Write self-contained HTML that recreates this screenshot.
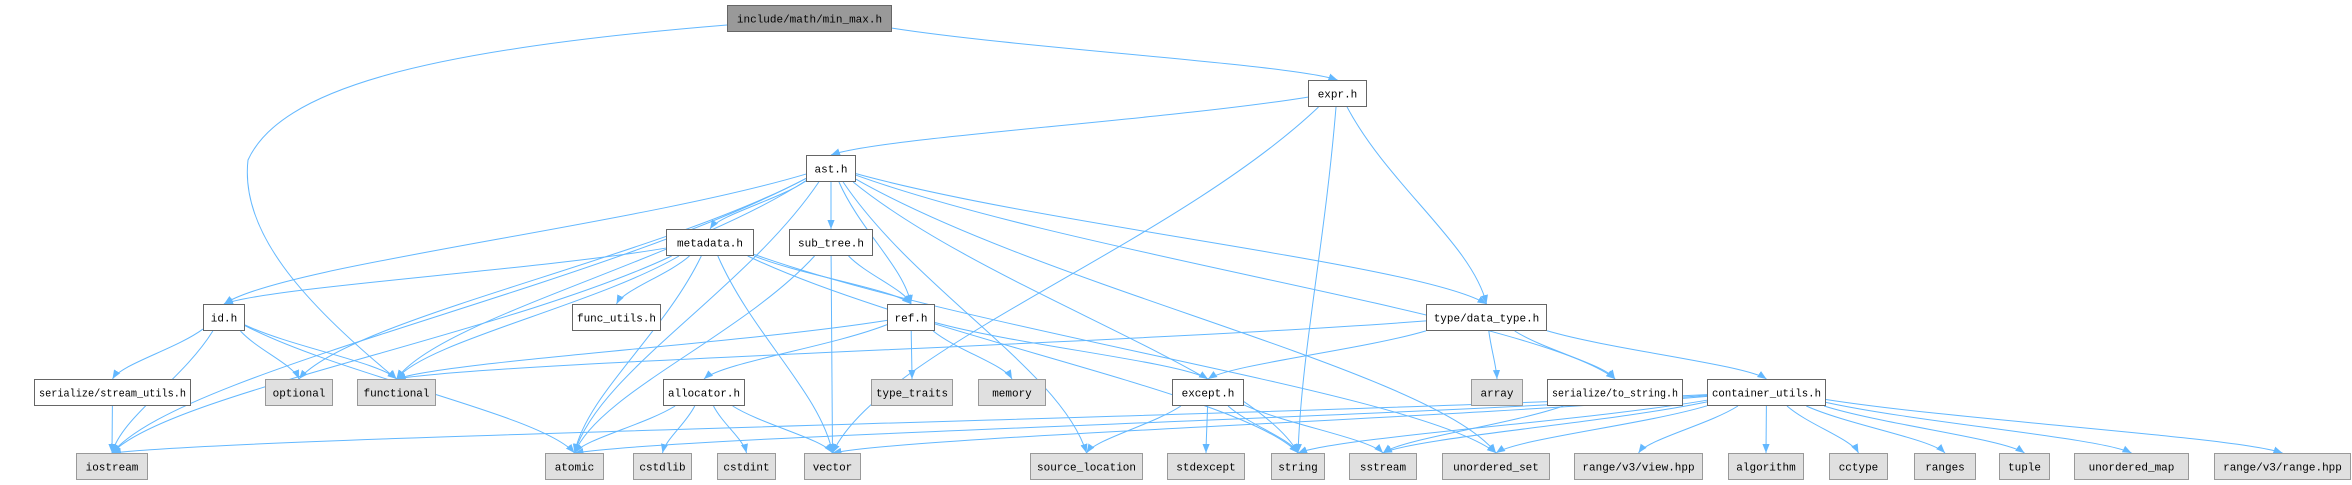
<!DOCTYPE html>
<html><head><meta charset="utf-8">
<style>
html,body{margin:0;padding:0;background:#fff;}
svg{display:block;}
text{font-family:"Liberation Mono","DejaVu Sans Mono",monospace;font-size:11px;fill:#000;}
</style></head>
<body>
<svg id="g" width="2352" height="485" viewBox="0 0 2352 485">
<defs><marker id="ah" viewBox="0 0 10 10" refX="10" refY="5" markerWidth="9" markerHeight="9" orient="auto" markerUnits="userSpaceOnUse"><path d="M0,1 L10,5 L0,9 z" fill="#63b8ff"/></marker></defs>
<g id="edges"></g>
<g id="nodes"></g>
</svg>
<script>
const nodeIds=["minmax","expr","ast","metadata","subtree","id","funcutils","ref","datatype","streamutils","optional","functional","allocator","typetraits","memory","except","array","tostring","containerutils","iostream","atomic","cstdlib","cstdint","vector","sourceloc","stdexcept","string","sstream","unorderedset","rangeview","algorithm","cctype","ranges","tuple","unorderedmap","rangerange"];
const nodeLabels=["include/math/min_max.h","expr.h","ast.h","metadata.h","sub_tree.h","id.h","func_utils.h","ref.h","type/data_type.h","serialize/stream_utils.h","optional","functional","allocator.h","type_traits","memory","except.h","array","serialize/to_string.h","container_utils.h","iostream","atomic","cstdlib","cstdint","vector","source_location","stdexcept","string","sstream","unordered_set","range/v3/view.hpp","algorithm","cctype","ranges","tuple","unordered_map","range/v3/range.hpp"];
const nodeKinds=["main","doc","doc","doc","doc","doc","doc","doc","doc","doc","ext","ext","doc","ext","ext","doc","ext","doc","doc","ext","ext","ext","ext","ext","ext","ext","ext","ext","ext","ext","ext","ext","ext","ext","ext","ext"];
const nodeX=[727,1308,806,666,789,203,572,887,1426,34,265,357,663,871,978,1172,1471,1547,1707,76,545,633,717,804,1030,1167,1271,1349,1442,1574,1728,1829,1914,1999,2074,2214];
const nodeR=[892,1367,856,754,873,245,661,935,1547,191,333,436,745,953,1046,1244,1523,1683,1826,148,604,692,776,861,1143,1245,1325,1417,1550,1703,1804,1888,1976,2050,2189,2351];
const nodeY=[5,80,155,229,229,304,304,304,304,379,379,379,379,379,379,379,379,379,379,453,453,453,453,453,453,453,453,453,453,453,453,453,453,453,453,453];
const edgeFrom=["minmax","minmax","expr","expr","expr","expr","ast","ast","ast","ast","ast","ast","ast","ast","ast","ast","ast","ast","ast","metadata","metadata","metadata","metadata","metadata","metadata","metadata","metadata","metadata","subtree","subtree","subtree","id","id","id","id","id","ref","ref","ref","ref","ref","streamutils","allocator","allocator","allocator","allocator","datatype","datatype","datatype","datatype","datatype","except","except","except","except","tostring","containerutils","containerutils","containerutils","containerutils","containerutils","containerutils","containerutils","containerutils","containerutils","containerutils","containerutils","containerutils","containerutils"];
const edgeTo=["functional","expr","ast","vector","string","datatype","id","iostream","optional","functional","atomic","metadata","subtree","ref","sourceloc","string","datatype","tostring","unorderedset","id","funcutils","ref","functional","iostream","atomic","vector","string","unorderedset","ref","atomic","vector","iostream","streamutils","optional","functional","atomic","functional","allocator","typetraits","memory","except","iostream","atomic","cstdlib","cstdint","vector","functional","except","array","tostring","containerutils","sourceloc","stdexcept","string","sstream","sstream","iostream","atomic","vector","string","sstream","unorderedset","rangeview","algorithm","cctype","ranges","tuple","unorderedmap","rangerange"];
const H=27;
const NS="http://www.w3.org/2000/svg";
const idx=id=>nodeIds.indexOf(id);
const eg=document.getElementById('edges'), ng=document.getElementById('nodes');
function clip(a,tx,ty){
  // point on source box boundary toward (tx,ty)
  const cx=(nodeX[a]+nodeR[a])/2, cy=nodeY[a]+H/2;
  const hw=(nodeR[a]-nodeX[a])/2, hh=H/2;
  const dx=tx-cx, dy=ty-cy;
  const s=Math.min(Math.abs(dx)>0?hw/Math.abs(dx):1e9, Math.abs(dy)>0?hh/Math.abs(dy):1e9);
  return [cx+dx*s, cy+dy*s];
}
for(let k=0;k<edgeFrom.length;k++){
  const a=idx(edgeFrom[k]), b=idx(edgeTo[k]);
  const bx=(nodeX[b]+nodeR[b])/2;
  let d;
  if(edgeFrom[k]==="minmax"&&edgeTo[k]==="functional"){
    d=`M${nodeX[a]},${nodeY[a]+20} C420,50 280,90 248,160 C240,230 300,300 ${bx},${nodeY[b]}`;
  } else {
    let tx=bx, ty=nodeY[b];
    const [sx,sy]=clip(a,tx,ty);
    if(ty<=sy+2){ ty=nodeY[b]+H/2; tx=(sx<bx)?nodeX[b]:nodeR[b]; }
    const mx=(sx+tx)/2, my=(sy+ty)/2;
    d=`M${sx},${sy} C${sx+(tx-sx)*0.3},${sy+(ty-sy)*0.4} ${tx-(tx-sx)*0.1},${ty-(ty-sy)*0.3} ${tx},${ty}`;
  }
  const p=document.createElementNS(NS,'path');
  p.setAttribute('d',d);p.setAttribute('fill','none');p.setAttribute('stroke','#63b8ff');p.setAttribute('stroke-width','1');p.setAttribute('marker-end','url(#ah)');
  
  
  eg.appendChild(p);
}
for(let i=0;i<nodeIds.length;i++){
  const g=document.createElementNS(NS,'g');
  
  
  const r=document.createElementNS(NS,'rect');
  const w=nodeR[i]-nodeX[i];
  r.setAttribute('x',nodeX[i]+0.5);r.setAttribute('y',nodeY[i]+0.5);r.setAttribute('width',w-1);r.setAttribute('height',H-1);
  const k=nodeKinds[i];
  r.setAttribute('fill',k==='main'?'#999999':k==='ext'?'#e0e0e0':'#ffffff');
  r.setAttribute('stroke',k==='ext'?'#999999':'#666666');
  
  
  g.appendChild(r);
  const t=document.createElementNS(NS,'text');
  t.setAttribute('x',nodeX[i]+w/2);t.setAttribute('y',nodeY[i]+17.5);t.setAttribute('text-anchor','middle');
  const tl=Math.min(w-10,nodeLabels[i].length*6.6);
  t.setAttribute('textLength',tl);t.setAttribute('lengthAdjust','spacingAndGlyphs');
  t.textContent=nodeLabels[i];
  
  
  g.appendChild(t);
  ng.appendChild(g);
}
</script>
</body></html>
